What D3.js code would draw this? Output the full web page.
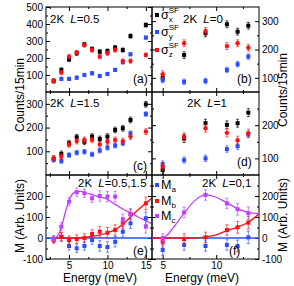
<!DOCTYPE html>
<html>
<head>
<meta charset="utf-8">
<script src="https://cdn.jsdelivr.net/npm/d3@7"></script>
<style>
  body { margin: 0; background: #fff; }
  svg { display: block; font-family: "Liberation Sans", Arial, sans-serif; }
  .tick text { font-size: 10px; }
</style>
</head>
<body>
<div id="chart"></div>
<script>
// energies (meV)
var eLeft = [3, 4, 5, 6, 7, 8, 9, 10, 11, 12, 13, 15];
var eRight = [5, 7, 9, 11, 12, 13];

// (a) 2K L=0.5, counts/15min
var aSx = [65, 130, 192, 228, 280, 253, 237, 241, 261, 247, 329, 394];
var aSy = [65, 77, 77, 84, 100, 110, 94, 106, 130, 175, 222, 320];
var aSz = [65, 114, 208, 232, 276, 247, 208, 228, 247, 182, 182, 218];
// (b) 2K L=0
var bSx = [100, 180, 257, 289, 263, 284];
var bSy = [92, 86, 89, 128, 148, 175];
var bSz = [113, 222, 265, 212, 222, 206];
// (c) 2K L=1.5
var cSx = [68, 89, 134, 159, 140, 162, 152, 162, 190, 197, 232, 298];
var cSy = [65, 59, 84, 94, 98, 87, 103, 115, 124, 134, 176, 257];
var cSz = [70, 77, 129, 143, 148, 148, 129, 140, 148, 143, 162, 183];
// (d) 2K L=1
var dSx = [65, 160, 206, 201, 206, 238];
var dSy = [83, 95, 100, 128, 137, 172];
var dSz = [75, 165, 191, 177, 155, 176];
var countErr = 12;

// (e) 2K L=0.5,1.5, M (arb. units)
var eMa = [-5, 5, -38, -49, -38, -10, -38, -43, -18, 30, 70, 94];
var eMb = [-10, 6, -10, -5, 0, 19, 30, 25, 38, 70, 113, 165];
var eMc = [-5, 54, 173, 218, 213, 189, 200, 197, 197, 89, 113, 54];
var eErr = [15, 20, 20, 20, 20, 20, 25, 25, 25, 25, 25, 30];
// (f) 2K L=0,1
var fMa = [-57, -33, -38, -33, -38, 3];
var fMb = [-18, -5, 3, 38, 51, 73];
var fMc = [-5, 122, 205, 165, 137, 118];
var fErr = [25, 25, 25, 25, 28, 30];

// fitted curves, [energy, M]
var eFitC = [[3, -3], [3.5, 10], [4, 50], [4.5, 120], [5, 180], [5.5, 212], [6, 222], [6.5, 222], [7, 217], [8, 206], [9, 195], [10, 184], [11, 160], [12, 138], [13, 120], [14, 100], [15, 82], [15.8, 67]];
var eFitB = [[3, 0], [6, 0], [7, 3], [8, 8], [9, 15], [10, 25], [11, 40], [12, 65], [13, 100], [14, 135], [15, 165], [15.8, 190]];
var fFitC = [[5, 0], [5.5, 18], [6, 50], [7, 118], [8, 178], [9, 205], [10, 194], [11, 168], [12, 140], [13, 122], [14, 116]];
var fFitB = [[4, 0], [8, 0], [9, 5], [10, 15], [11, 35], [12, 52], [13, 75], [14, 115]];

var BLACK = '#000', RED = '#ff1010', BLUE = '#2a4dff', PURPLE = '#c040ff';

var W = 294, H = 286;
var svg = d3.select('#chart').append('svg').attr('width', W).attr('height', H);

var xL = d3.scaleLinear().domain([2, 15.8]).range([46, 152]);
var xR = d3.scaleLinear().domain([4, 14]).range([152, 259]);
var rows = [[7, 92], [92, 175], [175, 259]];

function panel(opt){
    var x = opt.side == 'L' ? xL : xR;
    var y = d3.scaleLinear().domain(opt.dom).range([rows[opt.row][1], rows[opt.row][0]]);
    var g = svg.append('g');
    var x0 = x.range()[0], x1 = x.range()[1], y0 = y.range()[1], y1 = y.range()[0];

    var xMaj = opt.side == 'L' ? [5, 10, 15] : [5, 10];
    var xMin = opt.side == 'L' ? [2.5, 7.5, 12.5] : [7.5, 12.5];

    // x ticks, bottom + top
    var ax = g.append('g').attr('transform', 'translate(0,' + y1 + ')')
        .call(d3.axisBottom(x).tickValues(xMaj).tickSize(-4).tickPadding(3)
            .tickFormat(opt.row == 2 ? d3.format('d') : ''));
    g.append('g').attr('transform', 'translate(0,' + y1 + ')')
        .call(d3.axisBottom(x).tickValues(xMin).tickSize(-2).tickFormat(''));
    g.append('g').attr('transform', 'translate(0,' + y0 + ')')
        .call(d3.axisTop(x).tickValues(xMaj).tickSize(-4).tickFormat(''));
    g.append('g').attr('transform', 'translate(0,' + y0 + ')')
        .call(d3.axisTop(x).tickValues(xMin).tickSize(-2).tickFormat(''));

    // y ticks, outer side labelled
    var yOut = opt.side == 'L' ? d3.axisLeft(y) : d3.axisRight(y);
    var yIn = opt.side == 'L' ? d3.axisRight(y) : d3.axisLeft(y);
    var xo = opt.side == 'L' ? x0 : x1, xi = opt.side == 'L' ? x1 : x0;
    g.append('g').attr('transform', 'translate(' + xo + ',0)')
        .call(yOut.tickValues(opt.yMaj).tickSize(-4).tickPadding(3)
            .tickFormat(function(d){ return opt.yLab.indexOf(d) >= 0 ? d : ''; }));
    g.append('g').attr('transform', 'translate(' + xo + ',0)')
        .call((opt.side == 'L' ? d3.axisLeft(y) : d3.axisRight(y)).tickValues(opt.yMin).tickSize(-2).tickFormat(''));
    g.append('g').attr('transform', 'translate(' + xi + ',0)')
        .call(yIn.tickValues(opt.yMaj).tickSize(-4).tickFormat(''));
    g.append('g').attr('transform', 'translate(' + xi + ',0)')
        .call((opt.side == 'L' ? d3.axisRight(y) : d3.axisLeft(y)).tickValues(opt.yMin).tickSize(-2).tickFormat(''));
    g.selectAll('.domain').remove();
    g.selectAll('.tick line').attr('stroke', '#000');

    g.append('rect').attr('x', x0).attr('y', y0).attr('width', x1 - x0).attr('height', y1 - y0)
        .attr('fill', 'none').attr('stroke', '#000').attr('stroke-width', 1);

    var clipId = 'clip' + opt.name;
    svg.append('clipPath').attr('id', clipId).append('rect')
        .attr('x', x0).attr('y', y0).attr('width', x1 - x0).attr('height', y1 - y0);
    var plot = svg.append('g').attr('clip-path', 'url(#' + clipId + ')');

    (opt.lines || []).forEach(function(l){
        plot.append('path').datum(l.pts)
            .attr('d', d3.line().x(function(d){ return x(d[0]); }).y(function(d){ return y(d[1]); }).curve(d3.curveMonotoneX))
            .attr('fill', 'none').attr('stroke', l.color).attr('stroke-width', 1.3);
    });

    opt.series.forEach(function(s){
        var pts = s.vals.map(function(v, i){ return { e: opt.energy[i], v: v, err: Array.isArray(s.err) ? s.err[i] : s.err }; });
        var sg = plot.append('g');
        sg.selectAll('path.eb').data(pts).enter().append('path')
            .attr('class', 'eb')
            .attr('d', function(d){
                var cx = x(d.e), ya = y(d.v + d.err), yb = y(d.v - d.err);
                return 'M' + cx + ',' + ya + 'V' + yb + 'M' + (cx - 1.5) + ',' + ya + 'H' + (cx + 1.5) + 'M' + (cx - 1.5) + ',' + yb + 'H' + (cx + 1.5);
            })
            .attr('stroke', s.color).attr('stroke-opacity', 0.75).attr('stroke-width', 0.9).attr('fill', 'none');
        if (s.shape == 'circle') {
            sg.selectAll('circle').data(pts).enter().append('circle')
                .attr('cx', function(d){ return x(d.e); }).attr('cy', function(d){ return y(d.v); })
                .attr('r', 2.2).attr('fill', s.color);
        } else {
            sg.selectAll('rect').data(pts).enter().append('rect')
                .attr('x', function(d){ return x(d.e) - 2; }).attr('y', function(d){ return y(d.v) - 2; })
                .attr('width', 4).attr('height', 4).attr('fill', s.color);
        }
    });

    return { x: x, y: y, g: g };
}

function counts(vx, vy, vz){
    return [
        { vals: vx, color: BLACK, shape: 'rect', err: countErr },
        { vals: vy, color: BLUE, shape: 'rect', err: countErr * 0.8 },
        { vals: vz, color: RED, shape: 'circle', err: countErr }
    ];
}

panel({ name: 'a', side: 'L', row: 0, dom: [0, 500], energy: eLeft,
    yMaj: [100, 200, 300, 400, 500], yMin: [50, 150, 250, 350, 450], yLab: [100, 200, 300, 400, 500],
    series: counts(aSx, aSy, aSz) });
panel({ name: 'b', side: 'R', row: 0, dom: [50, 350], energy: eRight,
    yMaj: [100, 200, 300], yMin: [150, 250], yLab: [100, 200, 300],
    series: counts(bSx, bSy, bSz) });
panel({ name: 'c', side: 'L', row: 1, dom: [0, 350], energy: eLeft,
    yMaj: [100, 200, 300], yMin: [50, 150, 250], yLab: [100, 200, 300],
    series: counts(cSx, cSy, cSz) });
panel({ name: 'd', side: 'R', row: 1, dom: [50, 300], energy: eRight,
    yMaj: [100, 200], yMin: [150, 250], yLab: [100, 200],
    series: counts(dSx, dSy, dSz) });
panel({ name: 'e', side: 'L', row: 2, dom: [-100, 300], energy: eLeft,
    yMaj: [-100, 0, 100, 200], yMin: [-50, 50, 150, 250], yLab: [-100, 0, 100, 200],
    lines: [{ pts: [[2, 0], [15.8, 0]], color: BLUE }, { pts: eFitB, color: RED }, { pts: eFitC, color: PURPLE }],
    series: [
        { vals: eMa, color: BLUE, shape: 'rect', err: eErr },
        { vals: eMb, color: RED, shape: 'rect', err: eErr },
        { vals: eMc, color: PURPLE, shape: 'rect', err: eErr }
    ] });
panel({ name: 'f', side: 'R', row: 2, dom: [-100, 300], energy: eRight,
    yMaj: [-100, 0, 100, 200], yMin: [-50, 50, 150, 250], yLab: [-100, 0, 100, 200],
    lines: [{ pts: [[4, 0], [14, 0]], color: BLUE }, { pts: fFitB, color: RED }, { pts: fFitC, color: PURPLE }],
    series: [
        { vals: fMa, color: BLUE, shape: 'rect', err: fErr },
        { vals: fMb, color: RED, shape: 'rect', err: fErr },
        { vals: fMc, color: PURPLE, shape: 'rect', err: fErr }
    ] });

// panel titles
function title(x, y, L){
    var t = svg.append('text').attr('x', x).attr('y', y).attr('font-size', 11.5);
    t.append('tspan').text('2K ');
    t.append('tspan').attr('font-style', 'italic').attr('dx', 3).text('L');
    t.append('tspan').text('=' + L);
}
title(50, 23, '0.5');
title(183, 23, '0');
title(50, 107, '1.5');
title(187, 107, '1');
title(78, 187, '0.5,1.5');
title(202, 187, '0,1');

var tags = [['(a)', 133, 83], ['(b)', 237, 83], ['(c)', 133, 170], ['(d)', 237, 166], ['(e)', 133, 255], ['(f)', 229, 255]];
tags.forEach(function(t){
    svg.append('text').attr('x', t[1]).attr('y', t[2]).attr('font-size', 12).text(t[0]);
});

// legends
var legB = [['x', BLACK, 15], ['y', BLUE, 32], ['z', RED, 50]];
legB.forEach(function(l){
    svg.append('rect').attr('x', 155).attr('y', l[2] - 2).attr('width', 4).attr('height', 4).attr('fill', l[1]);
    var t = svg.append('text').attr('x', 161).attr('y', l[2] + 4).attr('font-size', 12.5);
    t.append('tspan').text('\u03c3');
    t.append('tspan').attr('font-size', 8).attr('dy', 3).text(l[0]);
    t.append('tspan').attr('font-size', 8).attr('dx', -4).attr('dy', -9).text('SF');
});
var legF = [['a', BLUE, 185], ['b', RED, 201], ['c', PURPLE, 216]];
legF.forEach(function(l){
    svg.append('rect').attr('x', 155).attr('y', l[2] - 2).attr('width', 4).attr('height', 4).attr('fill', l[1]);
    var t = svg.append('text').attr('x', 161).attr('y', l[2] + 4).attr('font-size', 12.5);
    t.append('tspan').text('M');
    t.append('tspan').attr('font-size', 8).attr('dy', 3).text(l[0]);
});

// axis titles
function vlabel(x, y, s){
    svg.append('text').attr('transform', 'translate(' + x + ',' + y + ') rotate(-90)')
        .attr('text-anchor', 'middle').attr('font-size', 12).text(s);
}
vlabel(24, 95, 'Counts/15min');
vlabel(287, 90, 'Counts/15min');
vlabel(24, 216, 'M (Arb. Units)');
vlabel(287, 215, 'M (Arb. Units)');
svg.append('text').attr('x', 100).attr('y', 282).attr('text-anchor', 'middle').attr('font-size', 12).text('Energy (meV)');
svg.append('text').attr('x', 202).attr('y', 282).attr('text-anchor', 'middle').attr('font-size', 12).text('Energy (meV)');
</script>
</body>
</html>
